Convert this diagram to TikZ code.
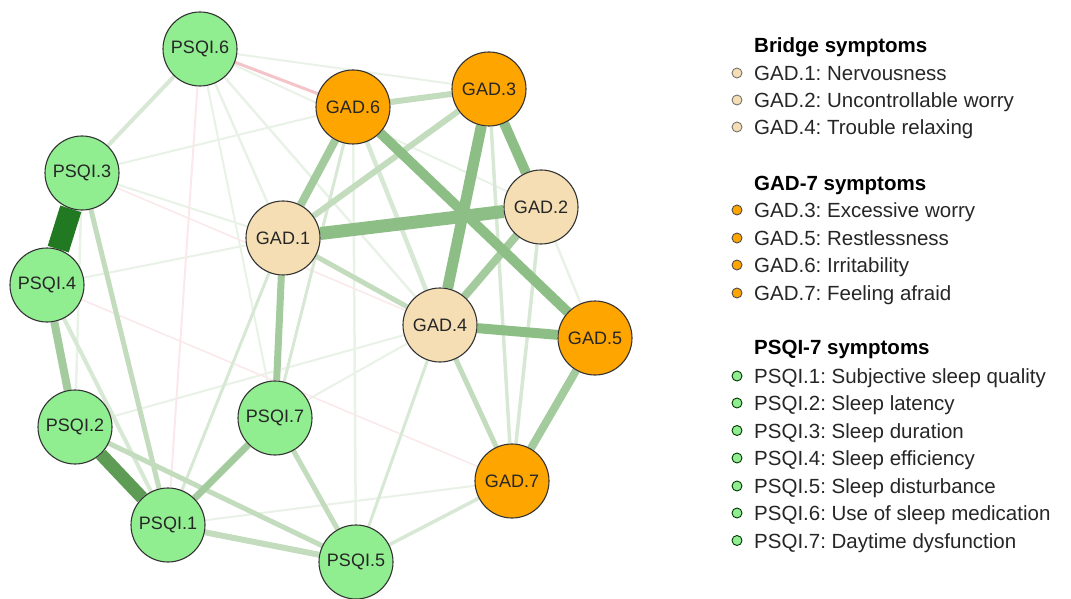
\documentclass[tikz,border=0pt]{standalone}
\usepackage{fontspec}
\setmainfont{Liberation Sans}
\frenchspacing
\usetikzlibrary{backgrounds}
\definecolor{nodegreen}{HTML}{90EE90}
\definecolor{nodeorange}{HTML}{FFA500}
\definecolor{nodetan}{HTML}{F5DEB3}
\definecolor{edgeA}{HTML}{217A21}
\definecolor{edgeB}{HTML}{5E9C55}
\definecolor{edgeC}{HTML}{8DBE86}
\definecolor{edgeD}{HTML}{A4CB9D}
\definecolor{edgeE}{HTML}{C2DCBD}
\definecolor{edgeF}{HTML}{D7E8D4}
\definecolor{edgeG}{HTML}{E9F2E7}
\definecolor{edgeR}{HTML}{F4C4C8}
\definecolor{edgeRR}{HTML}{FBE8EA}
\tikzset{
  sym/.style={circle, draw=black!80, line width=1.1pt, minimum size=74pt, inner sep=0pt, font=\fontsize{18}{20}\selectfont, text=black!85},
  psqi/.style={sym, fill=nodegreen},
  gado/.style={sym, fill=nodeorange},
  gadb/.style={sym, fill=nodetan},
  conn/.style={line cap=butt},
  hdr/.style={anchor=base west, font=\bfseries\fontsize{20.5}{24}\selectfont, inner sep=0pt},
  item/.style={anchor=base west, font=\fontsize{20.5}{24}\selectfont, inner sep=0pt, text=black!85},
  bul/.style={circle, line width=0.9pt, minimum size=10pt, inner sep=0pt},
}
\begin{document}
\begin{tikzpicture}[x=1pt,y=-1pt]
\useasboundingbox (0,0) rectangle (1071,599);
% nodes
\node[psqi] (p6) at (200,49) {PSQI.6};
\node[psqi] (p3) at (82,173) {PSQI.3};
\node[psqi] (p4) at (47,285) {PSQI.4};
\node[psqi] (p2) at (75,427) {PSQI.2};
\node[psqi] (p7) at (275,418) {PSQI.7};
\node[psqi] (p1) at (168,525) {PSQI.1};
\node[psqi] (p5) at (356,562) {PSQI.5};
\node[gado] (g6) at (353,107) {GAD.6};
\node[gado] (g3) at (489,89) {GAD.3};
\node[gadb] (g2) at (541,207) {GAD.2};
\node[gadb] (g1) at (283,238) {GAD.1};
\node[gadb] (g4) at (440,325) {GAD.4};
\node[gado] (g5) at (595,338) {GAD.5};
\node[gado] (g7) at (512,481) {GAD.7};
% edges
\begin{scope}[on background layer]
% faint
\draw[conn, edgeG, line width=2pt] (p6) -- (g3);
\draw[conn, edgeG, line width=2pt] (p6) -- (g2);
\draw[conn, edgeG, line width=2.5pt] (p6) -- (g1);
\draw[conn, edgeG, line width=2.5pt] (p6) -- (g4);
\draw[conn, edgeG, line width=2pt] (p6) -- (p7);
\draw[conn, edgeG, line width=2pt] (p3) -- (g6);
\draw[conn, edgeG, line width=2pt] (p3) -- (g1);
\draw[conn, edgeG, line width=2pt] (p4) -- (g1);
\draw[conn, edgeG, line width=2pt] (p2) -- (g4);
\draw[conn, edgeG, line width=2pt] (p1) -- (g7);
\draw[conn, edgeG, line width=2pt] (p7) -- (g4);
\draw[conn, edgeG, line width=2.5pt] (p3) -- (p2);
\draw[conn, edgeG, line width=2.5pt] (g6) -- (p5);
\draw[conn, edgeG, line width=2.5pt] (g2) -- (g5);
\draw[conn, edgeRR, line width=1.5pt] (p4) -- (g7);
\draw[conn, edgeRR, line width=1.5pt] (p3) -- (g4);
\draw[conn, edgeRR, line width=2pt] (p6) -- (p1);
\draw[conn, edgeR, line width=3pt] (p6) -- (g6);
% light
\draw[conn, edgeF, line width=4pt] (p6) -- (p3);
\draw[conn, edgeF, line width=3.5pt] (g3) -- (g7);
\draw[conn, edgeF, line width=3.5pt] (g2) -- (g7);
\draw[conn, edgeF, line width=3.5pt] (g7) -- (p5);
\draw[conn, edgeF, line width=3pt] (g4) -- (p5);
\draw[conn, edgeF, line width=3pt] (g6) -- (p7);
\draw[conn, edgeF, line width=3pt] (p1) -- (g1);
\draw[conn, edgeF, line width=4pt] (p4) -- (p1);
\draw[conn, edgeF, line width=4.5pt] (g6) -- (g4);
% medium
\draw[conn, edgeE, line width=5pt] (p3) -- (p1);
\draw[conn, edgeE, line width=5pt] (p2) -- (p5);
\draw[conn, edgeE, line width=6pt] (p1) -- (p5);
\draw[conn, edgeE, line width=5pt] (p7) -- (p5);
\draw[conn, edgeE, line width=5pt] (g4) -- (g7);
\draw[conn, edgeE, line width=5pt] (g1) -- (g4);
\draw[conn, edgeE, line width=6pt] (g3) -- (g1);
\draw[conn, edgeE, line width=6pt] (g6) -- (g3);
% strong
\draw[conn, edgeD, line width=7pt] (p7) -- (p1);
\draw[conn, edgeD, line width=7pt] (g1) -- (p7);
\draw[conn, edgeD, line width=8pt] (p4) -- (p2);
\draw[conn, edgeD, line width=8pt] (g2) -- (g4);
\draw[conn, edgeD, line width=8pt] (g6) -- (g1);
\draw[conn, edgeD, line width=8pt] (g5) -- (g7);
\draw[conn, edgeC, line width=10pt] (g4) -- (g5);
\draw[conn, edgeC, line width=10pt] (g3) -- (g2);
\draw[conn, edgeC, line width=10pt] (g6) -- (g5);
\draw[conn, edgeC, line width=11pt] (g3) -- (g4);
\draw[conn, edgeC, line width=13pt] (g1) -- (g2);
\draw[conn, edgeB, line width=13pt] (p2) -- (p1);
\draw[conn, edgeA, line width=22pt] (p3) -- (p4);
\end{scope}
% legend
\node[hdr] (h1) at (754,52.5) {Bridge symptoms};
\node[bul, fill=nodetan, draw=black!55] (b1) at (737,73) {};
\node[item] (t1) at (754,80.5) {GAD.1: Nervousness};
\node[bul, fill=nodetan, draw=black!55] (b2) at (737,100) {};
\node[item] (t2) at (754,107.5) {GAD.2: Uncontrollable worry};
\node[bul, fill=nodetan, draw=black!55] (b3) at (737,127) {};
\node[item] (t3) at (754,134.5) {GAD.4: Trouble relaxing};
\node[hdr] (h2) at (754,190.5) {GAD-7 symptoms};
\node[bul, fill=nodeorange, draw=black!70] (b4) at (737,210) {};
\node[item] (t4) at (754,217.5) {GAD.3: Excessive worry};
\node[bul, fill=nodeorange, draw=black!70] (b5) at (737,238) {};
\node[item] (t5) at (754,245.5) {GAD.5: Restlessness};
\node[bul, fill=nodeorange, draw=black!70] (b6) at (737,265) {};
\node[item] (t6) at (754,272.5) {GAD.6: Irritability};
\node[bul, fill=nodeorange, draw=black!70] (b7) at (737,293) {};
\node[item] (t7) at (754,300.5) {GAD.7: Feeling afraid};
\node[hdr] (h3) at (754,354.5) {PSQI-7 symptoms};
\node[bul, fill=nodegreen, draw=black!65!green!60!black] (b8) at (737,376) {};
\node[item] (t8) at (754,383.5) {PSQI.1: Subjective sleep quality};
\node[bul, fill=nodegreen, draw=black!65!green!60!black] (b9) at (737,403) {};
\node[item] (t9) at (754,410.5) {PSQI.2: Sleep latency};
\node[bul, fill=nodegreen, draw=black!65!green!60!black] (b10) at (737,430.5) {};
\node[item] (t10) at (754,438) {PSQI.3: Sleep duration};
\node[bul, fill=nodegreen, draw=black!65!green!60!black] (b11) at (737,458) {};
\node[item] (t11) at (754,465.5) {PSQI.4: Sleep efficiency};
\node[bul, fill=nodegreen, draw=black!65!green!60!black] (b12) at (737,486) {};
\node[item] (t12) at (754,493.5) {PSQI.5: Sleep disturbance};
\node[bul, fill=nodegreen, draw=black!65!green!60!black] (b13) at (737,513) {};
\node[item] (t13) at (754,520.5) {PSQI.6: Use of sleep medication};
\node[bul, fill=nodegreen, draw=black!65!green!60!black] (b14) at (737,540.5) {};
\node[item] (t14) at (754,548) {PSQI.7: Daytime dysfunction};
\end{tikzpicture}
\end{document}
